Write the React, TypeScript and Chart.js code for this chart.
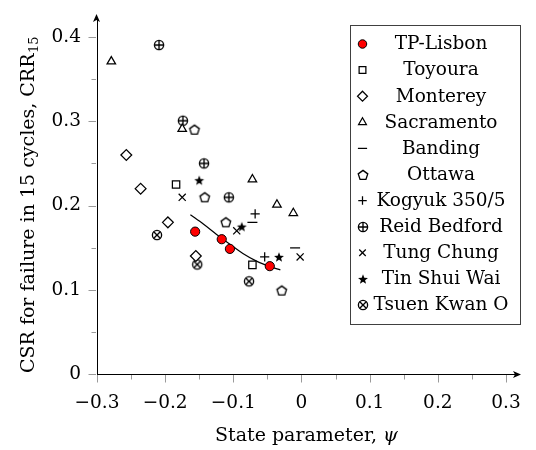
import React, { useEffect, useRef } from 'react';
import { Chart, registerables } from 'chart.js';

Chart.register(...registerables);

// ---------- data ----------
const seriesNames = ['TP-Lisbon', 'Toyoura', 'Monterey', 'Sacramento', 'Banding', 'Ottawa', 'Kogyuk 350/5', 'Reid Bedford', 'Tung Chung', 'Tin Shui Wai', 'Tsuen Kwan O'];
const markerKinds = ['circle', 'square', 'diamond', 'triangle', 'dash', 'pentagon', 'plus', 'oplus', 'cross', 'star', 'otimes'];

const lisbonX = [-0.156, -0.117, -0.105, -0.0465];
const lisbonY = [0.169, 0.160, 0.1485, 0.128];
const toyouraX = [-0.184, -0.072];
const toyouraY = [0.225, 0.1295];
const montereyX = [-0.257, -0.236, -0.196, -0.155];
const montereyY = [0.26, 0.22, 0.18, 0.14];
const sacramentoX = [-0.279, -0.175, -0.072, -0.036, -0.012];
const sacramentoY = [0.371, 0.291, 0.231, 0.201, 0.191];
const bandingX = [-0.072, -0.0094];
const bandingY = [0.18, 0.1497];
const ottawaX = [-0.157, -0.142, -0.111, -0.029];
const ottawaY = [0.29, 0.2097, 0.18, 0.099];
const kogyukX = [-0.068, -0.054];
const kogyukY = [0.19, 0.139];
const reidX = [-0.209, -0.174, -0.143, -0.1066];
const reidY = [0.3905, 0.3007, 0.25, 0.2097];
const tungX = [-0.175, -0.095, -0.002];
const tungY = [0.2097, 0.170, 0.139];
const tinX = [-0.15, -0.0876, -0.033];
const tinY = [0.23, 0.175, 0.139];
const tsuenX = [-0.212, -0.153, -0.077];
const tsuenY = [0.165, 0.13, 0.11];

const fitX = [-0.163, -0.144, -0.125, -0.105, -0.086, -0.066, -0.046, -0.031];
const fitY = [0.189, 0.178, 0.166, 0.154, 0.143, 0.134, 0.1275, 0.1236];

const seriesX = [lisbonX, toyouraX, montereyX, sacramentoX, bandingX, ottawaX, kogyukX, reidX, tungX, tinX, tsuenX];
const seriesY = [lisbonY, toyouraY, montereyY, sacramentoY, bandingY, ottawaY, kogyukY, reidY, tungY, tinY, tsuenY];

const xMajor = [-0.3, -0.2, -0.1, 0, 0.1, 0.2, 0.3];
const xMajorLabels = ['\u22120.3', '\u22120.2', '\u22120.1', '0', '0.1', '0.2', '0.3'];
const xMinor = [-0.25, -0.15, -0.05, 0.05, 0.15, 0.25];
const yMajor = [0, 0.1, 0.2, 0.3, 0.4];
const yMajorLabels = ['0', '0.1', '0.2', '0.3', '0.4'];
const yMinor = [0.05, 0.15, 0.25, 0.35];

const xTitle = 'State parameter, ';
const xTitleSymbol = '\u03C8';
const yTitle = 'CSR for failure in 15 cycles, CRR';
const yTitleSub = '15';

const FONT = "'DejaVu Serif', serif";

// built-in Chart.js styles where they exist, custom canvases otherwise
const builtinStyle: Record<string, { style: string; radius: number }> = {
  circle: { style: 'circle', radius: 4.6 },
  square: { style: 'rect', radius: 5.2 },
  diamond: { style: 'rectRot', radius: 5.4 },
  triangle: { style: 'triangle', radius: 4.9 },
  dash: { style: 'line', radius: 5 },
  plus: { style: 'cross', radius: 4.6 },
  cross: { style: 'crossRot', radius: 5 },
};

function makeMarker(kind: string): HTMLCanvasElement {
  const c = document.createElement('canvas');
  c.width = 16; c.height = 16;
  const g = c.getContext('2d')!;
  g.translate(8, 8);
  g.strokeStyle = '#000';
  g.fillStyle = '#fff';
  g.lineWidth = 1.35;
  g.beginPath();
  if (kind === 'pentagon') {
    for (let k = 0; k < 5; k++) {
      const a = -Math.PI / 2 + k * 2 * Math.PI / 5;
      const px = 5 * Math.cos(a), py = 5 * Math.sin(a) + 0.4;
      if (k === 0) g.moveTo(px, py); else g.lineTo(px, py);
    }
    g.closePath(); g.fill(); g.stroke();
  } else if (kind === 'oplus' || kind === 'otimes') {
    const r = 4.6;
    g.arc(0, 0, r, 0, Math.PI * 2); g.fill(); g.stroke();
    g.beginPath();
    if (kind === 'oplus') {
      g.moveTo(-r, 0); g.lineTo(r, 0); g.moveTo(0, -r); g.lineTo(0, r);
    } else {
      const d = r * 0.7071;
      g.moveTo(-d, -d); g.lineTo(d, d); g.moveTo(d, -d); g.lineTo(-d, d);
    }
    g.stroke();
  } else if (kind === 'star') {
    g.fillStyle = '#000';
    for (let k = 0; k < 10; k++) {
      const a = -Math.PI / 2 + k * Math.PI / 5;
      const rr = k % 2 === 0 ? 5.2 : 2.2;
      const px = rr * Math.cos(a), py = rr * Math.sin(a) + 0.5;
      if (k === 0) g.moveTo(px, py); else g.lineTo(px, py);
    }
    g.closePath(); g.fill();
  }
  return c;
}

const decoPlugin = {
  id: 'deco',
  afterDraw(chart: any) {
    const { ctx, chartArea: ca, scales } = chart;
    const xs = scales.x, ys = scales.y;
    ctx.save();
    // ticks
    ctx.strokeStyle = '#9a9a9a';
    ctx.lineWidth = 1;
    const bottom = Math.round(ca.bottom) + 0.5;
    const left = Math.round(ca.left) - 0.5;
    const tick = (vals: number[], len: number) => {
      vals.forEach((v) => {
        const px = Math.round(xs.getPixelForValue(v)) + 0.5;
        ctx.beginPath(); ctx.moveTo(px, bottom + 0.5); ctx.lineTo(px, bottom + len); ctx.stroke();
      });
    };
    const ytick = (vals: number[], len: number) => {
      vals.forEach((v) => {
        const py = Math.round(ys.getPixelForValue(v)) + 0.5;
        ctx.beginPath(); ctx.moveTo(left - 0.5, py); ctx.lineTo(left - len, py); ctx.stroke();
      });
    };
    tick(xMajor, 8); tick(xMinor, 5);
    ytick(yMajor, 8); ytick(yMinor, 5);

    // arrows
    ctx.fillStyle = '#000';
    const ax = ca.right, ay = bottom;
    ctx.beginPath();
    ctx.moveTo(ax + 5, ay); ctx.lineTo(ax - 3, ay - 3.5); ctx.lineTo(ax - 1, ay); ctx.lineTo(ax - 3, ay + 3.5); ctx.closePath(); ctx.fill();
    const bx = left, by = ca.top;
    ctx.beginPath();
    ctx.moveTo(bx, by - 5); ctx.lineTo(bx + 3.5, by + 3); ctx.lineTo(bx, by + 1); ctx.lineTo(bx - 3.5, by + 3); ctx.closePath(); ctx.fill();

    // titles
    ctx.fillStyle = '#000';
    ctx.textBaseline = 'alphabetic';
    ctx.textAlign = 'left';
    ctx.font = `19px ${FONT}`;
    const w1 = ctx.measureText(xTitle).width;
    ctx.font = `italic 19px ${FONT}`;
    const w2 = ctx.measureText(xTitleSymbol).width;
    const xc = (ca.left + ca.right) / 2;
    const sx = xc - (w1 + w2) / 2;
    ctx.font = `19px ${FONT}`;
    ctx.fillText(xTitle, sx, 440.5);
    ctx.font = `italic 19px ${FONT}`;
    ctx.fillText(xTitleSymbol, sx + w1, 440.5);

    ctx.save();
    ctx.translate(34, 205);
    ctx.rotate(-Math.PI / 2);
    ctx.font = `19px ${FONT}`;
    const t1 = ctx.measureText(yTitle).width;
    ctx.font = `13px ${FONT}`;
    const t2 = ctx.measureText(yTitleSub).width;
    const s0 = -(t1 + t2) / 2;
    ctx.font = `19px ${FONT}`;
    ctx.fillText(yTitle, s0, 0);
    ctx.font = `13px ${FONT}`;
    ctx.fillText(yTitleSub, s0 + t1 + 0.5, 3.5);
    ctx.restore();

    // legend
    const lx = 350.5, ly = 25.5, lw = 170, lh = 299;
    ctx.fillStyle = '#fff';
    ctx.fillRect(lx, ly, lw, lh);
    ctx.strokeStyle = '#404040';
    ctx.lineWidth = 1;
    ctx.strokeRect(lx, ly, lw, lh);
    ctx.font = `18.5px ${FONT}`;
    ctx.textAlign = 'center';
    ctx.textBaseline = 'middle';
    chart.data.datasets.forEach((ds: any, i: number) => {
      if (ds.isFit) return;
      const cy = 44 + i * 26.1;
      const mx = 362.5;
      const ps = ds.pointStyle;
      if (typeof ps === 'string') {
        ctx.save();
        ctx.fillStyle = ds.backgroundColor;
        ctx.strokeStyle = ds.borderColor;
        ctx.lineWidth = ds.borderWidth;
        ctx.beginPath();
        const r = ds.pointRadius * 0.92;
        if (ps === 'circle') {
          ctx.arc(mx, cy, r, 0, Math.PI * 2); ctx.fill(); ctx.stroke();
        } else if (ps === 'rect') {
          const h = r * Math.SQRT1_2; ctx.rect(mx - h, cy - h, 2 * h, 2 * h); ctx.fill(); ctx.stroke();
        } else if (ps === 'rectRot') {
          ctx.moveTo(mx, cy - r); ctx.lineTo(mx + r, cy); ctx.lineTo(mx, cy + r); ctx.lineTo(mx - r, cy); ctx.closePath(); ctx.fill(); ctx.stroke();
        } else if (ps === 'triangle') {
          ctx.moveTo(mx, cy - r); ctx.lineTo(mx + r * 0.866, cy + r / 2); ctx.lineTo(mx - r * 0.866, cy + r / 2); ctx.closePath(); ctx.fill(); ctx.stroke();
        } else if (ps === 'line') {
          ctx.moveTo(mx - r, cy); ctx.lineTo(mx + r, cy); ctx.stroke();
        } else if (ps === 'cross') {
          ctx.moveTo(mx - r, cy); ctx.lineTo(mx + r, cy); ctx.moveTo(mx, cy - r); ctx.lineTo(mx, cy + r); ctx.stroke();
        } else if (ps === 'crossRot') {
          const d = r * Math.SQRT1_2;
          ctx.moveTo(mx - d, cy - d); ctx.lineTo(mx + d, cy + d); ctx.moveTo(mx + d, cy - d); ctx.lineTo(mx - d, cy + d); ctx.stroke();
        }
        ctx.restore();
      } else {
        const img = ps as HTMLCanvasElement;
        ctx.drawImage(img, Math.round(mx - img.width / 2), Math.round(cy - img.height / 2));
      }
      ctx.fillStyle = '#000';
      ctx.fillText(ds.label, 441, cy + 0.5);
    });
    ctx.restore();
  },
};

export default function App() {
  const ref = useRef<HTMLCanvasElement>(null);
  useEffect(() => {
    document.body.style.margin = '0';
    const canvas = ref.current!;

    const datasets: any[] = seriesNames.map((name, i) => {
      const kind = markerKinds[i];
      const b = builtinStyle[kind];
      return {
        label: name,
        data: seriesX[i].map((x, j) => ({ x, y: seriesY[i][j] })),
        pointStyle: b ? b.style : makeMarker(kind),
        pointRadius: b ? b.radius : 5,
        backgroundColor: i === 0 ? '#ff0000' : '#ffffff',
        borderColor: '#000',
        borderWidth: i === 0 ? 1 : 1.25,
        showLine: false,
      };
    });
    datasets.push({
      label: 'fit',
      isFit: true,
      data: fitX.map((x, j) => ({ x, y: fitY[j] })),
      showLine: true,
      pointRadius: 0,
      borderColor: '#000',
      borderWidth: 1.2,
      cubicInterpolationMode: 'monotone',
      fill: false,
    });

    const findLabel = (vals: number[], labels: string[], v: number) => {
      const k = vals.findIndex((t) => Math.abs(t - v) < 1e-9);
      return k >= 0 ? labels[k] : '';
    };

    const chart = new Chart(canvas, {
      type: 'scatter',
      data: { datasets },
      options: {
        responsive: false,
        animation: false,
        layout: { padding: { left: 0, right: 20, top: 18, bottom: 0 } },
        plugins: { legend: { display: false }, tooltip: { enabled: false }, title: { display: false } },
        scales: {
          x: {
            type: 'linear',
            min: -0.3,
            max: 0.3147,
            afterFit: (s: any) => { s.height = 76; },
            afterBuildTicks: (s: any) => { s.ticks = xMajor.map((v) => ({ value: v })); },
            ticks: {
              font: { family: FONT, size: 18.5 },
              color: '#000',
              padding: 10,
              maxRotation: 0,
              autoSkip: false,
              callback: (v: any) => findLabel(xMajor, xMajorLabels, Number(v)),
            },
            grid: { display: true, drawOnChartArea: false, drawTicks: true, tickLength: 8, color: 'rgba(0,0,0,0)' },
            border: { display: true, color: '#000', width: 1 },
          },
          y: {
            type: 'linear',
            min: 0,
            max: 0.4213,
            afterFit: (s: any) => { s.width = 97; },
            afterBuildTicks: (s: any) => { s.ticks = yMajor.map((v) => ({ value: v })); },
            ticks: {
              font: { family: FONT, size: 18.5 },
              color: '#000',
              padding: 8,
              autoSkip: false,
              callback: (v: any) => findLabel(yMajor, yMajorLabels, Number(v)),
            },
            grid: { display: true, drawOnChartArea: false, drawTicks: true, tickLength: 8, color: 'rgba(0,0,0,0)' },
            border: { display: true, color: '#000', width: 1 },
          },
        },
      },
      plugins: [decoPlugin],
    } as any);
    return () => chart.destroy();
  }, []);
  return (
    <div style={{ width: 536, height: 450, background: '#fff' }}>
      <canvas ref={ref} width={536} height={450} style={{ display: 'block' }} />
    </div>
  );
}
